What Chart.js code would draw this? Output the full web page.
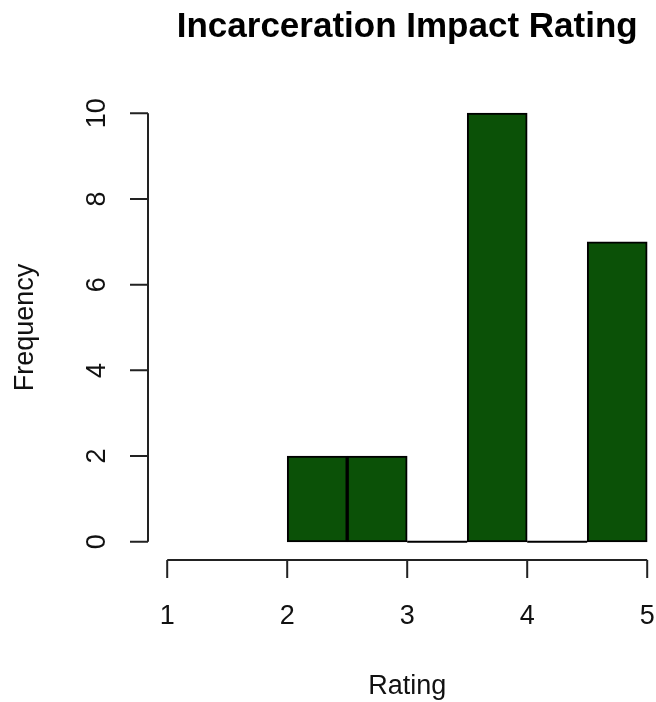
<!DOCTYPE html>
<html>
<head>
<meta charset="utf-8">
<script src="https://cdn.jsdelivr.net/npm/chart.js@4"></script>
<style>
  html, body { margin: 0; padding: 0; background: #ffffff; }
  #wrap { width: 656px; height: 702px; position: relative; }
</style>
</head>
<body>
<div id="wrap"><canvas id="chart"></canvas></div>
<script>
// Histogram bins (break points) and counts per bin
const breaks = [2, 2.5, 3, 3.5, 4, 4.5, 5];
const counts = [2, 2, 0, 10, 0, 7];

// Axis ticks
const xTicks = [1, 2, 3, 4, 5];
const yTicks = [0, 2, 4, 6, 8, 10];

// Text
const chartTitle = 'Incarceration Impact Rating';
const xTitle = 'Rating';
const yTitle = 'Frequency';

const FILL = '#0b5107';
const INK = '#111111';
const FONT = '"Liberation Sans", Arial, Helvetica, sans-serif';

// Bars: one per bin, centred on the bin midpoint
const barData = counts.map((c, i) => ({ x: (breaks[i] + breaks[i + 1]) / 2, y: c }));

// Empty bins are drawn as a flat segment on the baseline
const emptyData = [];
counts.forEach((c, i) => {
  if (c === 0) {
    emptyData.push({ x: breaks[i], y: 0 }, { x: breaks[i + 1], y: 0 }, { x: breaks[i + 1], y: null });
  }
});

// Plot region padded by 4% around the data range on both axes
const xLo = xTicks[0], xHi = xTicks[xTicks.length - 1];
const yLo = yTicks[0], yHi = yTicks[yTicks.length - 1];
const xPad = (xHi - xLo) * 0.04;
const yPad = (yHi - yLo) * 0.04;

const axesPlugin = {
  id: 'baseAxes',
  afterDraw(chart) {
    const { ctx, chartArea, scales } = chart;
    const xs = scales.x, ys = scales.y;
    ctx.save();
    ctx.strokeStyle = '#222222';
    ctx.lineWidth = 2;
    ctx.fillStyle = INK;
    ctx.font = '27px ' + FONT;

    // y axis along the left edge of the plot region
    const ax = chartArea.left;
    ctx.beginPath();
    ctx.moveTo(ax, ys.getPixelForValue(yLo));
    ctx.lineTo(ax, ys.getPixelForValue(yHi));
    yTicks.forEach(v => {
      const py = ys.getPixelForValue(v);
      ctx.moveTo(ax, py);
      ctx.lineTo(ax - 18, py);
    });
    ctx.stroke();
    ctx.textAlign = 'center';
    ctx.textBaseline = 'alphabetic';
    yTicks.forEach(v => {
      const py = ys.getPixelForValue(v);
      ctx.save();
      ctx.translate(ax - 43, py);
      ctx.rotate(-Math.PI / 2);
      ctx.fillText(String(v), 0, 0);
      ctx.restore();
    });

    // x axis along the bottom edge of the plot region
    const ay = chartArea.bottom + 1;
    ctx.beginPath();
    ctx.moveTo(xs.getPixelForValue(xLo), ay);
    ctx.lineTo(xs.getPixelForValue(xHi), ay);
    xTicks.forEach(v => {
      const px = xs.getPixelForValue(v);
      ctx.moveTo(px, ay);
      ctx.lineTo(px, ay + 18);
    });
    ctx.stroke();
    xTicks.forEach(v => {
      ctx.fillText(String(v), xs.getPixelForValue(v), ay + 64);
    });

    // Axis titles
    const midX = (xs.getPixelForValue(xLo - xPad) + xs.getPixelForValue(xHi + xPad)) / 2;
    const midY = (chartArea.top + chartArea.bottom) / 2;
    ctx.fillText(xTitle, midX, 694);
    ctx.save();
    ctx.translate(33, midY);
    ctx.rotate(-Math.PI / 2);
    ctx.fillText(yTitle, 0, 0);
    ctx.restore();

    // Main title
    ctx.fillStyle = '#000000';
    ctx.font = 'bold 35px ' + FONT;
    ctx.fillText(chartTitle, midX, 37);
    ctx.restore();
  }
};

new Chart(document.getElementById('chart'), {
  type: 'bar',
  data: {
    datasets: [
      {
        type: 'bar',
        data: barData,
        backgroundColor: FILL,
        borderColor: '#000000',
        borderWidth: 2,
        borderSkipped: false,
        barPercentage: 1.0,
        categoryPercentage: 1.0,
        order: 2
      },
      {
        type: 'line',
        data: emptyData,
        borderColor: '#000000',
        borderWidth: 2,
        pointRadius: 0,
        spanGaps: false,
        fill: false,
        order: 1
      }
    ]
  },
  options: {
    responsive: true,
    maintainAspectRatio: false,
    animation: false,
    devicePixelRatio: 1,
    layout: { padding: { left: 148, right: 0, top: 96, bottom: 143 } },
    plugins: {
      legend: { display: false },
      title: { display: false },
      tooltip: { enabled: false }
    },
    scales: {
      x: {
        type: 'linear',
        display: false,
        offset: false,
        grid: { offset: false },
        min: xLo - xPad,
        // the right edge of the canvas cuts the padded region
        max: xLo - xPad + (656 - 148) / 120
      },
      y: {
        type: 'linear',
        display: false,
        min: yLo - yPad,
        max: yHi + yPad
      }
    }
  },
  plugins: [axesPlugin]
});
</script>
</body>
</html>
